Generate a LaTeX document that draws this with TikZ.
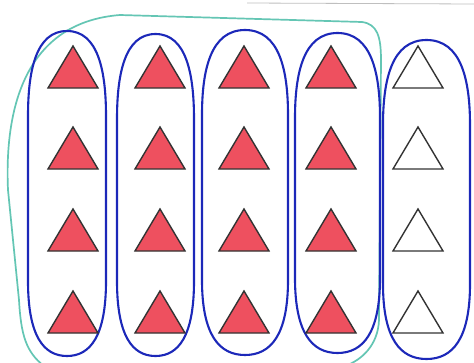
\documentclass[tikz,border=0pt]{standalone}
\begin{document}
\begin{tikzpicture}[x=1pt,y=-1pt,
  tri/.style={draw=black!80,line width=1.4pt,line join=miter},
  redtri/.style={tri,fill=trired},
  col/.style={draw=penblue,line width=2.1pt},
  outer/.style={draw=penteal,line width=1.7pt}]
\definecolor{trired}{RGB}{238,80,95}
\definecolor{penblue}{RGB}{28,40,185}
\definecolor{penteal}{RGB}{100,198,180}
\useasboundingbox (0,0) rectangle (474,362);
\fill[white] (0,0) rectangle (474,362);
\begin{scope}
\clip (0,0) rectangle (474,362);
% faint scan line at the top
\draw[black!25,line width=0.8pt] (247,3) -- (474,4);
% teal outline around the first four groups
\draw[outer] (44,366) .. controls (26,352) and (21,335) .. (19,300)
  -- (8,190) .. controls (4,100) and (30,22) .. (120,15)
  -- (362,22) .. controls (377,24) and (381,36) .. (381,60)
  -- (379,320) .. controls (378,345) and (362,360) .. (345,366);
% blue ovals
\foreach \L/\R/\T/\B in {28/106/31/356, 117/194/34/356, 202/288/30/355, 295/380/33/353, 383/470/40/359}{
  \pgfmathsetmacro{\m}{(\L+\R)/2}
  \pgfmathsetmacro{\w}{(\R-\L)/2}
  \draw[col] (\m,\T) .. controls ({\m+0.8*\w},\T) and (\R,{\T+40}) .. (\R,{\T+85})
    -- (\R,{\B-75}) .. controls (\R,{\B-20}) and ({\m+0.6*\w},\B) .. (\m,\B)
    .. controls ({\m-0.6*\w},\B) and (\L,{\B-20}) .. (\L,{\B-75})
    -- (\L,{\T+85}) .. controls (\L,{\T+40}) and ({\m-0.8*\w},\T) .. (\m,\T) -- cycle;
}
% triangles
\foreach \x in {73,160,244,331}{
  \foreach \y in {46,127,209,291}{
    \draw[redtri] ({\x-25},{\y+42}) -- (\x,\y) -- ({\x+25},{\y+42}) -- cycle;
  }
}
\foreach \y in {46,127,209,291}{
  \draw[tri] ({418-25},{\y+42}) -- (418,\y) -- ({418+25},{\y+42}) -- cycle;
}
\end{scope}
\end{tikzpicture}
\end{document}
